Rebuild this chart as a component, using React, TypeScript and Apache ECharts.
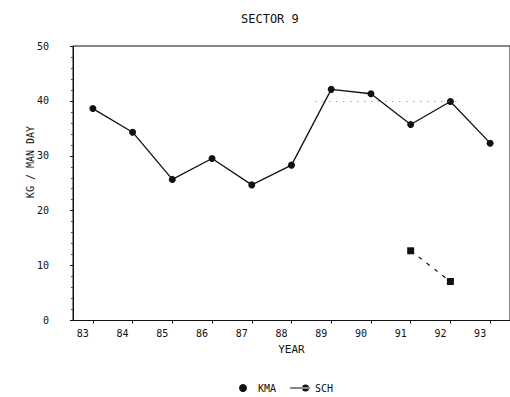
import React, { useEffect, useRef } from "react";
import * as echarts from "echarts";

// Years on the x axis and catch per man-day for the two gear groups
const years = [83, 84, 85, 86, 87, 88, 89, 90, 91, 92, 93];
const kmaValues = [38.6, 34.3, 25.7, 29.5, 24.7, 28.3, 42.1, 41.3, 35.7, 39.9, 32.3];
const schYears = [91, 92];
const schValues = [12.7, 7.1];
const yTicks = [0, 10, 20, 30, 40, 50];
// faint dotted reference level across the late years
const refLevel = 40;
const refSpan = [88.6, 92.2];

const FONT = "DejaVu Sans Mono";
const INK = "#111";

export default function App() {
  const ref = useRef<HTMLDivElement>(null);

  useEffect(() => {
    if (!ref.current) return;
    const chart = echarts.init(ref.current, undefined, { renderer: "svg" });

    const kmaData = years.map((y, i) => [y, kmaValues[i]]);
    const schData = schYears.map((y, i) => [y, schValues[i]]);

    chart.setOption({
      animation: false,
      backgroundColor: "#fff",
      title: {
        text: "SECTOR 9",
        left: 236,
        top: 8,
        textStyle: { fontFamily: FONT, fontSize: 12, fontWeight: "normal", color: INK },
      },
      grid: {
        left: 73,
        top: 46,
        width: 444,
        height: 274.5,
        show: true,
        borderColor: INK,
        borderWidth: 1,
      },
      legend: {
        left: 234,
        top: 378,
        itemWidth: 20,
        itemHeight: 8,
        itemGap: 14,
        textStyle: { fontFamily: FONT, fontSize: 10, color: INK },
        data: [
          { name: "KMA", icon: "circle" },
          {
            name: "SCH",
            icon: "path://M0,3.4h20v1.2h-20z M12,4a3.5,3.5 0 1,0 7,0a3.5,3.5 0 1,0 -7,0z",
          },
        ],
      },
      xAxis: {
        type: "value",
        min: 82.5,
        max: 93.5,
        name: "YEAR",
        nameLocation: "middle",
        nameGap: 23,
        nameTextStyle: { fontFamily: FONT, fontSize: 11, color: INK },
        axisLine: { show: true, lineStyle: { color: INK, width: 1 } },
        axisTick: { show: true, length: 3, customValues: years, lineStyle: { color: INK } },
        axisLabel: {
          customValues: years,
          fontFamily: FONT,
          fontSize: 10,
          color: INK,
          margin: 8,
          padding: [0, 20, 0, 0],
        },
        splitLine: { show: false },
      },
      yAxis: {
        type: "value",
        min: 0,
        max: 50,
        interval: 10,
        axisLine: { show: true, lineStyle: { color: INK, width: 1 } },
        axisTick: { show: true, length: 3, lineStyle: { color: INK } },
        minorTick: { show: true, splitNumber: 5, length: 2, lineStyle: { color: "#444" } },
        axisLabel: {
          fontFamily: FONT,
          fontSize: 10,
          color: INK,
          margin: 24,
          formatter: (v: number) => (yTicks.includes(v) ? String(v) : ""),
        },
        splitLine: { show: false },
      },
      graphic: [
        {
          type: "text",
          x: 30,
          y: 162,
          rotation: Math.PI / 2,
          style: {
            text: "KG / MAN DAY",
            fontFamily: FONT,
            fontSize: 10,
            fill: INK,
            align: "center",
            verticalAlign: "middle",
          },
        },
      ],
      series: [
        {
          name: "KMA",
          type: "line",
          data: kmaData,
          symbol: "circle",
          symbolSize: 7,
          itemStyle: { color: INK },
          lineStyle: { color: INK, width: 1.3 },
          markLine: {
            silent: true,
            symbol: "none",
            label: { show: false },
            lineStyle: { color: "#777", type: [1, 6], width: 1 },
            data: [[{ coord: [refSpan[0], refLevel] }, { coord: [refSpan[1], refLevel] }]],
          },
        },
        {
          name: "SCH",
          type: "line",
          data: schData,
          symbol: "rect",
          symbolSize: 7,
          itemStyle: { color: INK },
          lineStyle: { color: INK, width: 1.2, type: [4, 6] },
        },
      ],
    });

    return () => chart.dispose();
  }, []);

  return <div ref={ref} style={{ width: 510, height: 397, position: "absolute", left: 0, top: 0 }} />;
}
